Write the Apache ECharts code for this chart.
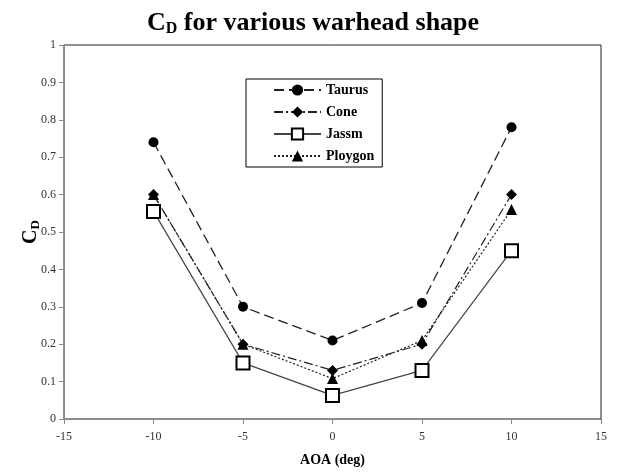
<!DOCTYPE html>
<html>
<head>
<meta charset="utf-8">
<script src="https://cdn.jsdelivr.net/npm/echarts@6/dist/echarts.min.js"></script>
<style>
html,body{margin:0;padding:0;background:#fff;}
#chart{width:619px;height:472px;}
</style>
</head>
<body>
<div id="chart"></div>
<script>
const aoa = [-10, -5, 0, 5, 10];
const taurus = [0.74, 0.30, 0.21, 0.31, 0.78];
const cone = [0.60, 0.20, 0.13, 0.20, 0.60];
const jassm = [0.555, 0.15, 0.063, 0.13, 0.45];
const ploygon = [0.60, 0.20, 0.108, 0.21, 0.56];
const xTicks = { min: -15, max: 15, interval: 5 };
const yTicks = { min: 0, max: 1, interval: 0.1 };

const serif = '"Liberation Serif", "Times New Roman", serif';
const pairs = arr => aoa.map((x, i) => [x, arr[i]]);

const chart = echarts.init(document.getElementById('chart'), null, { renderer: 'canvas' });
chart.setOption({
  animation: false,
  backgroundColor: '#fff',
  title: {
    text: '{c|C}{d|D}{t| for various warhead shape}',
    left: 308, top: 4, textAlign: 'center',
    textStyle: {
      rich: {
        c: { fontFamily: serif, fontWeight: 'bold', fontSize: 26, color: '#000' },
        d: { fontFamily: serif, fontWeight: 'bold', fontSize: 16, color: '#000', verticalAlign: 'bottom', padding: [12, 0, 0, 0] },
        t: { fontFamily: serif, fontWeight: 'bold', fontSize: 26, color: '#000' }
      }
    }
  },
  grid: { left: 64, right: 18, top: 45, bottom: 52, show: true, borderColor: '#222', borderWidth: 1 },
  legend: {
    orient: 'vertical', left: 246, top: 79,
    borderColor: '#000', borderWidth: 1, padding: [4, 8, 4, 27],
    itemWidth: 47, itemHeight: 14, itemGap: 8,
    textStyle: { fontFamily: serif, fontWeight: 'bold', fontSize: 14, color: '#000' },
    data: ['Taurus', 'Cone', 'Jassm', 'Ploygon']
  },
  xAxis: {
    type: 'value', min: xTicks.min, max: xTicks.max, interval: xTicks.interval,
    name: 'AOA (deg)', nameLocation: 'middle', nameGap: 34,
    nameTextStyle: { fontFamily: serif, fontWeight: 'bold', fontSize: 14, color: '#000' },
    axisLine: { onZero: false, lineStyle: { color: '#888' } },
    axisTick: { show: true, length: 5, lineStyle: { color: '#888' } },
    axisLabel: { fontFamily: serif, fontSize: 12, color: '#333', margin: 12 },
    splitLine: { show: false }
  },
  yAxis: {
    type: 'value', min: yTicks.min, max: yTicks.max, interval: yTicks.interval,
    name: '{c|C}{d|D}', nameLocation: 'middle', nameGap: 22, nameRotate: 90,
    nameMoveOverlap: false,
    nameTextStyle: {
      rich: {
        c: { fontFamily: serif, fontWeight: 'bold', fontSize: 20, color: '#000' },
        d: { fontFamily: serif, fontWeight: 'bold', fontSize: 13, color: '#000', verticalAlign: 'bottom', padding: [9, 0, 0, 0] }
      }
    },
    axisLine: { show: true, onZero: false, lineStyle: { color: '#888' } },
    axisTick: { show: true, length: 5, lineStyle: { color: '#888' } },
    axisLabel: { fontFamily: serif, fontSize: 12, color: '#333', margin: 8 },
    splitLine: { show: false }
  },
  series: [
    {
      name: 'Taurus', type: 'line', data: pairs(taurus),
      symbol: 'circle', symbolSize: 10,
      lineStyle: { color: '#222', width: 1.3, type: [10, 5] },
      itemStyle: { color: '#000', borderWidth: 0 }
    },
    {
      name: 'Cone', type: 'line', data: pairs(cone),
      symbol: 'diamond', symbolSize: 11,
      lineStyle: { color: '#222', width: 1.2, type: [9, 3, 2, 3] },
      itemStyle: { color: '#000', borderWidth: 0 }
    },
    {
      name: 'Jassm', type: 'line', data: pairs(jassm), z: 3,
      symbol: 'rect', symbolSize: 13,
      lineStyle: { color: '#444', width: 1.2, type: 'solid' },
      itemStyle: { color: '#fff', borderColor: '#000', borderWidth: 2 }
    },
    {
      name: 'Ploygon', type: 'line', data: pairs(ploygon),
      symbol: 'triangle', symbolSize: 11,
      lineStyle: { color: '#222', width: 1.2, type: [2, 2] },
      itemStyle: { color: '#000', borderWidth: 0 }
    }
  ]
});
</script>
</body>
</html>
